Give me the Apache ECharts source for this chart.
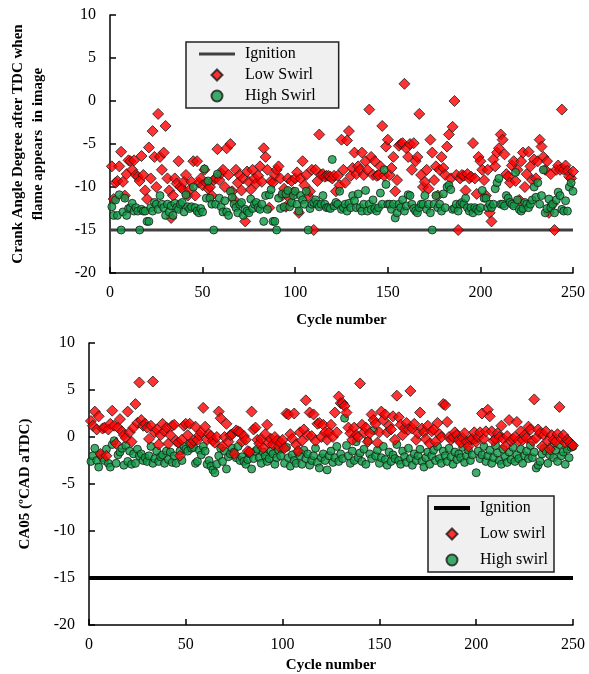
<!DOCTYPE html>
<html><head><meta charset="utf-8">
<script src="https://cdn.jsdelivr.net/npm/echarts@6/dist/echarts.min.js"></script>
<style>html,body{margin:0;padding:0;background:#fff}#c{width:589px;height:674px}</style>
</head><body><div id="c"></div>
<script>
// Top panel: crank angle degree when flame appears
const topLowSwirl = [
-7.6,-11.4,-9.5,-9.3,-7.6,-5.9,-9.4,-11.0,-8.5,-6.9,
-7.0,-8.0,-6.9,-8.6,-8.8,-9.3,-6.4,-8.6,-10.4,-11.4,
-5.4,-9.0,-3.5,-6.5,-10.0,-1.5,-6.5,-8.0,-6.0,-2.9,
-9.0,-10.4,-13.6,-11.0,-9.0,-9.6,-7.0,-10.0,-10.2,-9.4,
-8.6,-11.0,-10.3,-9.4,-7.0,-11.0,-7.0,-9.5,-9.0,-9.8,
-8.0,-9.5,-10.2,-10.0,-11.0,-9.2,-9.0,-5.6,-9.2,-8.4,
-8.0,-10.0,-5.5,-8.6,-5.0,-10.5,-11.5,-8.0,-9.5,-8.6,
-10.4,-9.0,-14.0,-8.2,-9.4,-10.3,-8.0,-9.0,-9.6,-8.7,
-7.6,-9.4,-5.5,-6.5,-8.0,-12.4,-9.3,-9.5,-8.6,-8.0,
-7.6,-9.0,-11.0,-10.2,-12.3,-9.0,-11.3,-9.3,-10.6,-9.0,
-8.3,-13.0,-9.0,-7.0,-9.8,-8.6,-11.0,-10.5,-8.0,-15.0,
-8.0,-9.3,-3.9,-8.6,-8.5,-8.8,-8.7,-8.7,-8.8,-9.0,
-8.7,-10.5,-8.7,-9.8,-4.5,-8.0,-9.5,-4.6,-3.5,-8.7,
-7.8,-6.0,-8.5,-7.6,-8.0,-6.0,-8.6,-7.0,-8.0,-1.0,
-6.5,-8.6,-7.0,-8.7,-8.6,-7.6,-2.9,-8.7,-5.3,-4.5,
-8.6,-7.8,-6.5,-10.5,-9.2,-5.2,-5.0,-4.9,2.0,-5.5,
-6.5,-5.0,-8.0,-4.9,-7.0,-6.5,-1.5,-8.6,-10.0,-9.4,
-8.0,-10.2,-4.5,-6.0,-9.2,-7.6,-11.0,-8.0,-6.5,-7.8,
-8.6,-5.3,-3.9,-9.0,-3.0,0.0,-8.6,-15.0,-9.0,-8.6,
-8.7,-10.4,-8.5,-9.0,-8.8,-4.9,-9.0,-10.8,-6.5,-7.0,
-8.0,-9.2,-11.0,-8.0,-13.0,-14.0,-6.8,-7.6,-6.0,-5.5,
-3.9,-4.5,-6.2,-8.5,-8.8,-9.5,-7.5,-7.0,-9.3,-8.0,
-11.5,-7.0,-6.0,-10.0,-8.5,-5.9,-7.6,-9.2,-6.8,-9.0,
-7.0,-4.5,-5.3,-6.5,-8.0,-7.0,-13.0,-8.5,-12.0,-15.0,
-8.0,-7.5,-8.0,-1.0,-8.0,-7.5,-8.1,-8.8,-9.0,-8.2
];
const topHighSwirl = [
-12.3,-13.3,-11.5,-13.3,-10.9,-15.0,-12.9,-11.3,-13.3,-12.5,
-12.4,-11.9,-12.8,-12.4,-12.8,-15.0,-12.6,-12.8,-12.8,-14.0,
-14.0,-12.4,-12.8,-11.8,-12.0,-12.6,-11.0,-12.0,-12.4,-13.3,
-12.0,-12.9,-12.2,-13.3,-11.9,-12.4,-12.6,-12.0,-11.8,-12.9,
-10.9,-12.3,-12.5,-12.3,-10.0,-12.4,-12.8,-13.0,-12.5,-12.9,
-7.9,-11.3,-9.3,-11.3,-12.0,-15.0,-12.0,-8.5,-11.3,-12.3,
-12.9,-11.6,-12.9,-13.3,-10.5,-11.2,-12.0,-12.4,-13.0,-12.0,
-11.8,-13.3,-12.6,-12.8,-13.0,-11.4,-12.5,-12.0,-11.8,-12.4,
-12.6,-12.0,-14.0,-11.0,-12.6,-10.9,-10.3,-14.0,-14.0,-15.0,
-11.3,-12.5,-10.8,-12.3,-10.8,-10.4,-12.3,-11.8,-11.0,-10.5,
-12.0,-12.8,-11.0,-11.5,-12.0,-10.5,-15.0,-12.5,-12.0,-11.8,
-11.5,-12.0,-12.3,-12.0,-11.0,-12.0,-12.4,-12.4,-12.5,-6.8,
-12.2,-11.8,-12.0,-10.5,-12.6,-12.4,-12.0,-12.8,-11.9,-12.4,
-11.0,-11.6,-12.4,-10.8,-12.4,-12.8,-12.0,-10.4,-12.8,-12.0,
-12.6,-11.5,-12.5,-12.8,-12.4,-10.7,-12.0,-8.0,-9.7,-12.0,
-12.0,-12.6,-12.0,-13.6,-13.0,-12.0,-12.4,-11.5,-12.8,-12.2,
-10.9,-11.0,-12.0,-12.5,-12.8,-13.0,-12.4,-12.0,-12.0,-11.0,
-12.6,-12.0,-13.0,-15.0,-12.0,-11.0,-12.4,-12.0,-12.8,-10.8,
-12.4,-10.0,-9.8,-10.3,-12.6,-12.5,-12.0,-12.8,-12.0,-11.8,
-12.0,-11.3,-12.4,-12.8,-12.4,-13.0,-12.4,-12.6,-12.8,-12.4,
-10.4,-11.3,-11.3,-12.4,-12.0,-12.4,-12.0,-10.2,-9.5,-9.0,
-12.0,-12.0,-12.2,-11.0,-11.3,-11.8,-12.0,-12.2,-8.3,-11.5,
-12.6,-12.8,-12.5,-11.8,-12.0,-12.4,-12.0,-11.5,-10.0,-11.2,
-9.5,-12.0,-11.0,-8.0,-13.0,-12.5,-11.4,-12.4,-12.0,-13.0,
-11.5,-10.6,-11.0,-12.6,-12.8,-11.6,-12.8,-10.0,-9.5,-10.5
];
// Bottom panel: CA05
const botLowSwirl = [
1.7,1.2,2.7,0.8,2.2,-1.8,0.9,1.0,-2.0,0.8,
1.4,2.8,1.2,-0.7,1.0,1.9,0.6,0.2,-0.1,2.7,
0.5,-0.5,1.0,3.5,1.5,5.8,1.8,1.2,1.4,1.0,
-0.2,1.2,5.9,0.5,0.8,-0.8,0.2,1.4,0.6,1.0,
-0.7,0.2,1.2,1.3,-0.4,-0.6,-2.0,-0.3,1.2,1.4,
0.2,1.4,-0.7,-0.4,1.1,-0.3,0.2,0.5,3.1,1.1,
-0.3,0.3,0.1,-0.4,-0.6,0.0,2.7,2.0,-1.0,0.0,
1.4,-0.5,0.2,0.3,-1.8,0.7,0.6,0.5,-0.5,0.1,
-0.3,-1.5,-1.6,2.7,0.8,1.0,-0.3,-0.7,-0.2,-1.2,
0.3,1.3,-0.6,-0.2,-0.8,0.0,-0.4,-1.0,-0.6,-0.3,
-1.2,2.5,2.4,0.3,-0.2,2.5,-0.8,-1.5,0.5,-0.4,
0.8,3.9,0.2,2.6,0.1,2.4,-0.4,1.4,1.5,0.0,
1.3,0.5,-0.3,0.5,1.3,0.0,2.6,0.5,4.3,3.6,
3.6,3.3,2.6,1.0,0.4,-0.3,1.0,0.2,0.0,5.7,
1.3,0.5,1.0,-0.5,0.4,2.4,1.8,1.4,-0.6,0.5,
2.7,1.8,2.4,0.5,1.2,0.8,2.2,-0.3,4.4,2.1,
1.3,0.2,0.9,1.5,0.8,4.9,0.9,1.4,-0.3,0.4,
2.6,0.9,0.5,-0.2,1.2,-0.7,0.6,0.8,-0.5,1.5,
0.3,0.0,3.5,3.4,1.6,0.0,-0.3,0.0,0.5,0.2,
-0.3,-0.6,-0.1,0.4,-0.5,-1.0,-0.3,-0.2,0.5,-0.5,
0.0,0.5,2.5,-0.2,0.6,2.9,2.2,0.6,-0.4,-0.2,
0.4,0.0,1.2,-0.2,-1.0,0.1,1.8,-0.4,-0.2,0.0,
1.6,-0.4,0.6,-0.3,0.2,-0.1,1.1,0.8,-0.4,4.0,
-0.1,0.8,0.4,-1.0,0.2,0.6,-0.4,-1.3,0.2,-0.3,
-0.5,0.3,3.2,-0.2,0.2,-0.6,-0.3,-0.5,-0.8,-0.9
];
const botHighSwirl = [
-2.6,-2.0,-1.2,-2.5,-3.2,-1.9,-2.2,-2.5,-1.3,-2.8,
-3.2,-0.8,-0.4,-2.8,-1.9,-1.6,-1.2,-3.0,-0.9,-2.6,
-1.5,-2.9,-1.8,-2.8,-1.3,-2.0,-1.8,-2.5,-2.2,-2.6,
-2.0,-1.0,-2.8,-2.3,-1.5,-2.6,-2.1,-1.9,-2.8,-1.5,
-2.4,-1.6,-2.7,-2.0,-2.8,-0.6,-1.5,-2.5,-1.0,-1.3,
-1.5,-0.7,-1.2,-1.1,-2.8,-2.6,-1.4,-1.9,-1.0,-1.5,
-2.9,-2.5,-3.1,-3.5,-3.8,-2.9,-2.0,-1.2,-2.6,-1.5,
-3.4,-2.1,-1.8,-1.2,-1.6,-2.2,-1.0,-2.5,-2.1,-2.6,
-2.9,-2.4,-1.8,-3.4,-2.3,-1.5,-1.3,-2.2,-2.8,-1.6,
-2.0,-2.6,-2.3,-1.5,-1.8,-2.9,-2.2,-1.4,-2.0,-1.2,
-2.8,-1.1,-2.2,-3.1,-1.9,-2.5,-2.8,-1.6,-2.0,-2.9,
-1.4,-2.3,-1.8,-3.0,-2.5,-2.0,-1.2,-2.7,-3.3,-2.2,
-1.8,-2.5,-3.5,-2.0,-1.5,-2.7,-2.2,-1.0,-2.6,-1.8,
-2.3,2.0,-0.9,-2.0,-2.8,-1.5,-2.5,-0.5,-2.2,-1.7,
-2.6,-1.3,-2.9,-0.4,-1.8,-2.3,0.7,-2.0,-1.4,-2.8,
-2.2,-1.0,-2.4,-3.0,-1.6,-2.6,-1.9,-2.3,-0.8,-2.5,
-2.9,-1.5,-2.1,-2.7,-1.2,-2.3,-3.0,-1.8,-2.5,-2.0,
-1.3,-2.6,-3.2,-2.2,-1.6,-2.9,-2.0,-1.4,-2.5,-1.0,
-2.3,-2.8,-1.5,-2.0,-2.6,-1.2,-2.1,-2.9,-1.6,-2.4,
-1.8,-2.2,-1.1,-2.7,-2.0,-1.4,-2.5,-1.9,-0.3,-3.8,
-1.5,-2.3,-1.9,-1.0,-2.6,-2.0,-1.4,-2.8,-2.2,-0.9,
-1.7,-2.5,-2.9,-1.3,-2.1,-2.7,-1.6,-2.4,-1.1,-2.6,
-1.9,-2.3,-1.3,-2.8,-2.0,-1.5,-2.3,-0.9,-2.2,-1.6,
-3.3,-3.0,-2.6,-1.8,-1.2,-1.5,-2.8,-1.9,-1.0,-2.2,
-1.4,-2.6,-0.8,-2.0,-1.6,-2.9,-1.3,-2.2,-1.1,-1.0
];
const ignitionX = [0, 250];
const ignitionY = [-15, -15];
const xTicks = [0, 50, 100, 150, 200, 250];
const yTicks = [-20, -15, -10, -5, 0, 5, 10];

const FONT = 'Liberation Serif';
const toXY = arr => arr.map((v, i) => [i + 1, v]);
const ign = ignitionX.map((x, i) => [x, ignitionY[i]]);

const ICON_LINE3 = 'path://M0,0H36V3H0Z';
const ICON_LINE4 = 'path://M0,0H36V4.2H0Z';
const ICON_DIAMOND = 'path://M5,0L10,5L5,10L0,5Z';

function xAxis(gi) {
  return {
    gridIndex: gi, type: 'value', min: xTicks[0], max: xTicks[xTicks.length - 1], interval: 50,
    name: 'Cycle number', nameLocation: 'middle', nameGap: gi === 0 ? 40 : 33,
    nameTextStyle: { fontFamily: FONT, fontWeight: 'bold', fontSize: 15, color: '#000' },
    axisLine: { onZero: false, lineStyle: { color: '#000', width: 1.5 } },
    axisTick: { inside: true, length: 6, lineStyle: { color: '#000', width: 1.5 } },
    axisLabel: { fontFamily: FONT, fontSize: 16, color: '#000', margin: 12 },
    splitLine: { show: false }
  };
}
function yAxis(gi, name, gap) {
  return {
    gridIndex: gi, type: 'value', min: yTicks[0], max: yTicks[yTicks.length - 1], interval: 5,
    name: name, nameLocation: 'middle', nameGap: gap, nameRotate: 90,
    nameTextStyle: { fontFamily: FONT, fontWeight: 'bold', fontSize: 15, color: '#000', lineHeight: 20, align: 'center' },
    axisLine: { show: true, lineStyle: { color: '#000', width: 1.5 } },
    axisTick: { show: true, inside: true, length: 6, lineStyle: { color: '#000', width: 1.5 } },
    axisLabel: { fontFamily: FONT, fontSize: 16, color: '#000', margin: 14 },
    splitLine: { show: false }
  };
}
const redDiamond = { color: '#ff0000', borderColor: '#1a1a1a', borderWidth: 1 };
const greenCircle = { color: '#0e9a45', borderColor: '#1a1a1a', borderWidth: 1 };

const chart = echarts.init(document.getElementById('c'), null, { renderer: 'canvas' });
chart.setOption({
  animation: false,
  backgroundColor: '#fff',
  grid: [
    { left: 90, right: 16, top: 15, height: 258 },
    { left: 89, right: 16, top: 343, height: 282 }
  ],
  xAxis: [xAxis(0), xAxis(1)],
  yAxis: [
    yAxis(0, 'Crank Angle Degree after TDC when\nflame appears  in image', 62),
    yAxis(1, 'CA05 (ºCAD aTDC)', 54)
  ],
  legend: [
    {
      data: [
        { name: 'Ignition', icon: ICON_LINE3 },
        { name: 'Low Swirl', icon: ICON_DIAMOND },
        { name: 'High Swirl', icon: 'circle' }
      ],
      orient: 'vertical', left: 186, top: 42, symbolKeepAspect: true,
      itemWidth: 36, itemHeight: 11, itemGap: 5, padding: [4, 23, 4, 13],
      backgroundColor: '#f0f0f0', borderColor: '#222', borderWidth: 1.5, borderRadius: 0,
      textStyle: { fontFamily: FONT, fontSize: 16, color: '#000', padding: [0, 0, 0, 5] }, selectedMode: false
    },
    {
      data: [
        { name: 'Ignition ', icon: ICON_LINE4 },
        { name: 'Low swirl', icon: ICON_DIAMOND },
        { name: 'High swirl', icon: 'circle' }
      ],
      orient: 'vertical', left: 428, top: 496, symbolKeepAspect: true,
      itemWidth: 36, itemHeight: 11, itemGap: 10, padding: [4, 6, 4, 6],
      backgroundColor: '#f0f0f0', borderColor: '#222', borderWidth: 1.5, borderRadius: 0,
      textStyle: { fontFamily: FONT, fontSize: 16, color: '#000', padding: [0, 0, 0, 5] }, selectedMode: false
    }
  ],
  series: [
    { name: 'Ignition', type: 'line', xAxisIndex: 0, yAxisIndex: 0, data: ign, symbol: 'none',
      lineStyle: { color: '#404040', width: 3 }, itemStyle: { color: '#404040' }, z: 1 },
    { name: 'Low Swirl', type: 'scatter', xAxisIndex: 0, yAxisIndex: 0, data: toXY(topLowSwirl),
      symbol: 'diamond', symbolSize: 11, itemStyle: redDiamond, z: 2 },
    { name: 'High Swirl', type: 'scatter', xAxisIndex: 0, yAxisIndex: 0, data: toXY(topHighSwirl),
      symbol: 'circle', symbolSize: 8, itemStyle: greenCircle, z: 3 },
    { name: 'Ignition ', type: 'line', xAxisIndex: 1, yAxisIndex: 1, data: ign, symbol: 'none',
      lineStyle: { color: '#000', width: 4 }, itemStyle: { color: '#000' }, z: 1 },
    { name: 'High swirl', type: 'scatter', xAxisIndex: 1, yAxisIndex: 1, data: toXY(botHighSwirl),
      symbol: 'circle', symbolSize: 8, itemStyle: greenCircle, z: 2 },
    { name: 'Low swirl', type: 'scatter', xAxisIndex: 1, yAxisIndex: 1, data: toXY(botLowSwirl),
      symbol: 'diamond', symbolSize: 11, itemStyle: redDiamond, z: 3 }
  ]
});
</script></body></html>
